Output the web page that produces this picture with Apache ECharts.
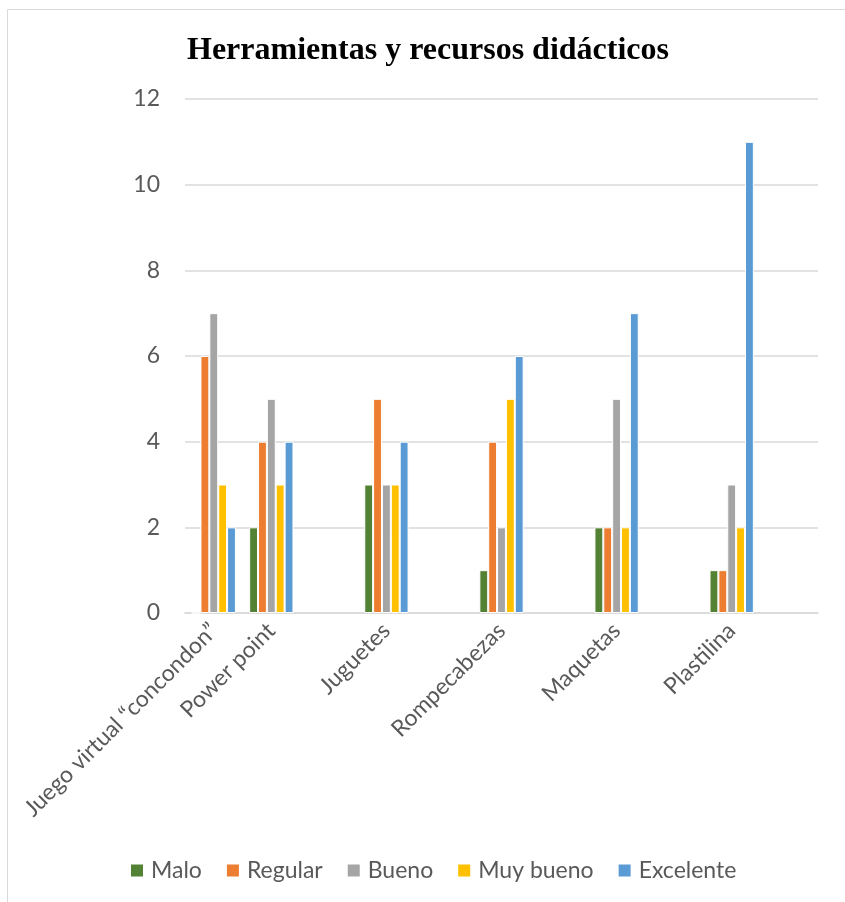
<!DOCTYPE html>
<html>
<head>
<meta charset="utf-8">
<script src="https://cdn.jsdelivr.net/npm/echarts@6/dist/echarts.min.js"></script>
<style>
  html, body { margin: 0; padding: 0; background: #fff; }
  #chart { width: 845px; height: 902px; }
</style>
</head>
<body>
<div id="chart"></div>
<script>
// Category slots: the empty strings are spacer slots between the resource groups
const categories = ['Juego virtual “concondon”', 'Power point', '', 'Juguetes', '', 'Rompecabezas', '', 'Maquetas', '', 'Plastilina', ''];
const seriesNames = ['Malo', 'Regular', 'Bueno', 'Muy bueno', 'Excelente'];
const malo      = [0, 2, null, 3, null, 1, null, 2, null, 1, null];
const regular   = [6, 4, null, 5, null, 4, null, 2, null, 1, null];
const bueno     = [7, 5, null, 3, null, 2, null, 5, null, 3, null];
const muyBueno  = [3, 3, null, 3, null, 5, null, 2, null, 2, null];
const excelente = [2, 4, null, 4, null, 6, null, 7, null, 11, null];
const yTicks = [0, 2, 4, 6, 8, 10, 12];

const colors = ['#548235', '#ED7D31', '#A5A5A5', '#FFC000', '#5B9BD5'];
const values = [malo, regular, bueno, muyBueno, excelente];
const textColor = '#595959';
const uiFont = 'Lato';

const chart = echarts.init(document.getElementById('chart'), null, { renderer: 'canvas' });

chart.setOption({
  backgroundColor: '#fff',
  animation: false,
  color: colors,
  title: {
    text: 'Herramientas y recursos didácticos',
    left: 182,
    top: 30,
    textStyle: {
      fontFamily: 'Liberation Serif',
      fontWeight: 'bold',
      fontSize: 32,
      color: '#000'
    }
  },
  graphic: [
    { type: 'line', shape: { x1: 7.5, y1: 9.5, x2: 845, y2: 9.5 }, style: { stroke: '#d9d9d9', lineWidth: 1 } },
    { type: 'line', shape: { x1: 7.5, y1: 9.5, x2: 7.5, y2: 902 }, style: { stroke: '#d9d9d9', lineWidth: 1 } }
  ],
  legend: {
    data: seriesNames.map((name, i) => ({
      name,
      icon: 'rect',
      itemStyle: { color: colors[i], borderWidth: 0, borderColor: 'transparent' }
    })),
    bottom: 15,
    left: 126,
    itemWidth: 12,
    itemHeight: 12,
    itemGap: 25,
    textStyle: { fontFamily: uiFont, fontSize: 23, color: textColor, padding: [0, 0, 0, 3] }
  },
  grid: { left: 185, right: 27, top: 99, bottom: 289, containLabel: false },
  xAxis: {
    type: 'category',
    data: categories,
    axisLine: { lineStyle: { color: '#d9d9d9', width: 1.5 } },
    axisTick: { show: false },
    axisLabel: {
      interval: 0,
      rotate: 45,
      margin: 14,
      fontFamily: uiFont,
      fontSize: 23,
      color: textColor
    }
  },
  yAxis: {
    type: 'value',
    min: yTicks[0],
    max: yTicks[yTicks.length - 1],
    interval: 2,
    axisLine: { show: false },
    axisTick: { show: false },
    splitLine: { lineStyle: { color: '#d9d9d9', width: 1.5 } },
    axisLabel: { margin: 25, fontFamily: uiFont, fontSize: 23, color: textColor }
  },
  series: seriesNames.map((name, i) => ({
    name,
    type: 'bar',
    data: values[i],
    barGap: '0%',
    barCategoryGap: '23%',
    itemStyle: { color: colors[i], borderColor: '#ffffff', borderWidth: 1 }
  }))
});
</script>
</body>
</html>
